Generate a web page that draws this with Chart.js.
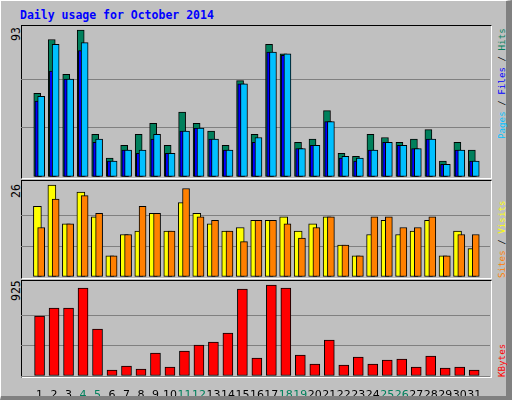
<!DOCTYPE html>
<html>
<head>
<meta charset="utf-8">
<script src="https://cdn.jsdelivr.net/npm/chart.js@4"></script>
<style>
  body { margin: 0; background: #fff; }
  #frame { position: absolute; left: 0; top: 0; width: 505px; height: 395px; background: #C0C0C0;
           border-left: 1px solid #fff; border-top: 1px solid #fff; border-right: 6px solid #808080; border-bottom: 4px solid #808080; }
  .panel { position: absolute; left: 20px; width: 469px; border-left: 1px solid #000; border-top: 1px solid #000;
           border-right: 1px solid #fff; border-bottom: 1px solid #fff; }
  canvas { position: absolute; }
  .mono { position: absolute; font-family: "DejaVu Sans Mono", monospace; font-size: 11.5px; white-space: nowrap; }
  .side { font-size: 9.2px; }
  .rot { transform: rotate(-90deg); transform-origin: left top; }
</style>
</head>
<body>
<div id="frame">
  <div class="mono" style="left:19px;top:7px;color:#0000FF;font-weight:bold;">Daily usage for October 2014</div>
  <div class="panel" style="top:24px;height:152px;"></div>
  <div class="panel" style="top:179px;height:97px;"></div>
  <div class="panel" style="top:279px;height:96px;"></div>
  <div class="mono rot" style="left:8px;top:40px;">93</div>
  <div class="mono rot" style="left:8px;top:197px;">26</div>
  <div class="mono rot" style="left:8px;top:300px;">925</div>
  <div class="mono side rot" style="left:495px;top:138px;"><span style="color:#00C0FF">Pages</span> / <span style="color:#0000FF">Files</span> / <span style="color:#00805C">Hits</span></div>
  <div class="mono side rot" style="left:495px;top:277px;"><span style="color:#FF8000">Sites</span> / <span style="color:#FFFF00">Visits</span></div>
  <div class="mono side rot" style="left:495px;top:376px;"><span style="color:#FF0000">KBytes</span></div>
</div>
<canvas id="c1" style="left:21px;top:25px;width:469px;height:152px;"></canvas>
<canvas id="c2" style="left:21px;top:180px;width:469px;height:97px;"></canvas>
<canvas id="c3" style="left:21px;top:280px;width:469px;height:116px;"></canvas>
<script>
// --- Data ---
const days = Array.from({ length: 31 }, (_, i) => i + 1);
const weekendDays = [4, 5, 11, 12, 18, 19, 25, 26];
const hits   = [53, 87, 65, 93, 27, 12, 20, 27, 34, 20, 41, 34, 29, 20, 61, 27, 84, 78, 22, 24, 42, 15, 13, 27, 25, 22, 24, 30, 10, 22, 17];
const files  = [48, 67, 62, 80, 22, 10, 17, 15, 24, 15, 29, 31, 24, 17, 59, 22, 79, 77, 18, 20, 35, 12, 10, 17, 22, 20, 18, 24, 8, 17, 10];
const pages  = [51, 84, 62, 85, 24, 10, 17, 17, 27, 15, 29, 31, 24, 17, 59, 25, 79, 78, 18, 20, 35, 13, 12, 17, 22, 20, 18, 24, 8, 17, 10];
const visits = [20, 26, 15, 24, 17, 6, 12, 13, 18, 13, 21, 18, 15, 13, 14, 16, 16, 17, 13, 15, 17, 9, 6, 12, 16, 12, 13, 16, 6, 13, 8];
const sites  = [14, 22, 15, 23, 18, 6, 12, 20, 18, 13, 25, 17, 16, 13, 10, 16, 16, 15, 11, 14, 17, 9, 6, 17, 17, 14, 14, 17, 6, 12, 12];
const kbytes = [610, 691, 691, 894, 478, 61, 102, 71, 234, 91, 254, 315, 346, 437, 884, 183, 925, 894, 213, 122, 366, 112, 193, 122, 163, 173, 91, 203, 81, 91, 61];
const maxHits = 93, maxVisits = 26, maxKB = 925;

// --- Helpers ---
const xMin = 0.32, xMax = 31.65;

function barSet(values, shift, color, thickness) {
  return {
    data: days.map((d, i) => ({ x: d + shift, y: values[i] })),
    backgroundColor: color, borderColor: '#000', borderWidth: 1,
    barThickness: thickness, grouped: false, borderSkipped: false
  };
}

function yScale(top, max) {
  return {
    min: 0, max: top,
    afterFit: s => { s.width = 0; },
    afterBuildTicks: s => { s.ticks = [0, max / 3, 2 * max / 3].map(v => ({ value: v })); },
    ticks: { display: false },
    border: { display: false },
    grid: { color: '#808080', lineWidth: 1, drawTicks: false }
  };
}

function xScale(showLabels) {
  return {
    type: 'linear', min: xMin, max: xMax,
    display: showLabels,
    afterFit: s => { s.height = showLabels ? 20 : 0; },
    afterBuildTicks: s => { s.ticks = days.map(d => ({ value: d + 0.08 })); },
    grid: { display: false },
    border: { display: false },
    ticks: {
      padding: 5, autoSkip: false, maxRotation: 0,
      font: { family: 'DejaVu Sans', size: 11 },
      color: ctx => weekendDays.includes(Math.round(ctx.tick.value)) ? '#00805C' : '#000',
      callback: v => String(Math.round(v))
    }
  };
}

function makeChart(id, datasets, top, max, showLabels) {
  new Chart(document.getElementById(id), {
    type: 'bar',
    data: { datasets },
    options: {
      responsive: false, animation: false,
      layout: { padding: 0, autoPadding: false },
      plugins: { legend: { display: false }, tooltip: { enabled: false } },
      scales: { x: xScale(showLabels), y: yScale(top, max) }
    }
  });
}

// fix canvas pixel sizes to their css boxes
for (const id of ['c1', 'c2', 'c3']) {
  const c = document.getElementById(id);
  c.width = parseInt(c.style.width); c.height = parseInt(c.style.height);
}

// --- Charts ---
// first dataset is drawn on top
makeChart('c1', [
  barSet(pages, 0.19, '#00C0FF', 7),
  barSet(files, 0.0, '#0000FF', 7),
  barSet(hits, -0.08, '#00805C', 7)
], maxHits * 152 / 147, maxHits, false);

makeChart('c2', [
  barSet(sites, 0.19, '#FF8000', 7),
  barSet(visits, -0.07, '#FFFF00', 8)
], maxVisits * 97 / 92, maxVisits, false);

makeChart('c3', [
  barSet(kbytes, 0.08, '#FF0000', 10)
], maxKB * 96 / 91, maxKB, true);
</script>
</body>
</html>
